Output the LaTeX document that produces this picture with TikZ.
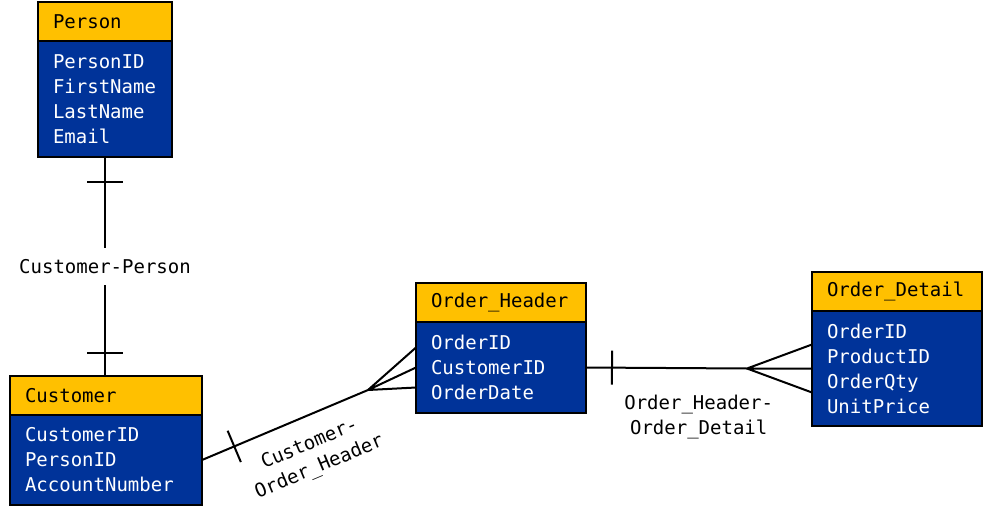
\documentclass[tikz,border=0pt]{standalone}
\usepackage{fontspec}
\newfontfamily\erfont{DejaVu Sans Mono}
\usetikzlibrary{positioning,calc,decorations.markings}
\definecolor{hdr}{HTML}{FFC000}
\definecolor{tbl}{HTML}{003399}

\tikzset{
  erfnt/.style={font=\erfont\fontsize{19}{25}\selectfont},
  entityhead/.style={draw, line width=2pt, fill=hdr, anchor=north west, outer sep=0pt,
    erfnt, text width=#1, inner xsep=15pt, minimum height=39pt, align=left},
  entitybody/.style={draw, line width=2pt, fill=tbl, text=white, outer sep=0pt,
    erfnt, text width=#1, inner xsep=15pt, align=left},
  conn/.style={line width=2pt},
  rellabel/.style={erfnt, align=center},
  barmark/.style={postaction={decorate}, decoration={markings,
    mark=at position #1 with {\draw[line width=2pt] (0,-17pt) -- (0,17pt);}}},
  barmarks/.style 2 args={postaction={decorate}, decoration={markings,
    mark=at position #1 with {\draw[line width=2pt] (0,-18pt) -- (0,18pt);},
    mark=at position #2 with {\draw[line width=2pt] (0,-18pt) -- (0,18pt);}}}
}

\begin{document}
\begin{tikzpicture}[x=1pt, y=-1pt]
  \useasboundingbox (0,0) rectangle (983,522);

  % tables
  \node[entityhead=104pt] (personhd) at (38,2) {Person};
  \node[entitybody=104pt, minimum height=116pt, below=0pt of personhd] (person)
    {PersonID\\FirstName\\LastName\\Email};

  \node[entityhead=162pt] (customerhd) at (10,376) {Customer};
  \node[entitybody=162pt, minimum height=90pt, below=0pt of customerhd] (customer)
    {CustomerID\\PersonID\\AccountNumber};

  \node[entityhead=140pt] (orderhd) at (416,283) {Order\_Header};
  \node[entitybody=140pt, minimum height=91pt, below=0pt of orderhd] (orderh)
    {OrderID\\CustomerID\\OrderDate};

  \node[entityhead=140pt] (detailhd) at (812,272) {Order\_Detail};
  \node[entitybody=140pt, minimum height=115pt, below=0pt of detailhd] (detail)
    {OrderID\\ProductID\\OrderQty\\UnitPrice};

  % relationships
  \draw[conn, barmarks={25pt}{-23pt}] (person.south) --
    node[rellabel, fill=white, inner ysep=11pt] {Customer-Person}
    (person.south |- customerhd.north);

  \coordinate (chcrow) at (368,390);
  \draw[conn, barmark=35pt] (customer.east) --
    node[rellabel, sloped, below=14pt, pos=0.585] {Customer-\\Order\_Header} (chcrow);
  \draw[conn] (chcrow) -- ([yshift=20pt]orderh.west)
    (chcrow) -- (orderh.west)
    (chcrow) -- ([yshift=-20pt]orderh.west);

  \coordinate (hdcrow) at ([xshift=-65pt]detail.west);
  \draw[conn, barmark=26pt] (orderh.east) --
    node[rellabel, pos=0.7, yshift=-49pt] {Order\_Header-\\Order\_Detail} (hdcrow);
  \draw[conn] (hdcrow) -- ([yshift=24pt]detail.west)
    (hdcrow) -- (detail.west)
    (hdcrow) -- ([yshift=-24pt]detail.west);
\end{tikzpicture}
\end{document}
